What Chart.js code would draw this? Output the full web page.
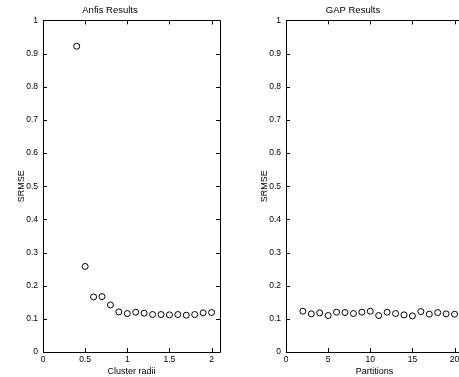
<!DOCTYPE html>
<html>
<head>
<meta charset="utf-8">
<script src="https://cdn.jsdelivr.net/npm/chart.js@4.4.0/dist/chart.umd.min.js"></script>
<style>
  html, body { margin: 0; padding: 0; background: #fff; overflow: hidden; width: 459px; height: 377px; }
  .box { position: absolute; top: 0; width: 230px; height: 377px; }
  #b1 { left: 0; }
  #b2 { left: 243px; }
</style>
</head>
<body>
<div class="box" id="b1"><canvas id="c1" width="230" height="377"></canvas></div>
<div class="box" id="b2"><canvas id="c2" width="230" height="377"></canvas></div>
<script>
// ---- data ----
const anfisRadii = [0.4, 0.5, 0.6, 0.7, 0.8, 0.9, 1.0, 1.1, 1.2, 1.3, 1.4, 1.5, 1.6, 1.7, 1.8, 1.9, 2.0];
const anfisSRMSE = [0.922, 0.258, 0.166, 0.167, 0.142, 0.121, 0.116, 0.120, 0.117, 0.113, 0.113, 0.112, 0.113, 0.111, 0.113, 0.118, 0.119];
const gapPartitions = [2, 3, 4, 5, 6, 7, 8, 9, 10, 11, 12, 13, 14, 15, 16, 17, 18, 19, 20];
const gapSRMSE = [0.123, 0.115, 0.118, 0.110, 0.120, 0.119, 0.116, 0.120, 0.123, 0.110, 0.120, 0.116, 0.112, 0.109, 0.122, 0.114, 0.119, 0.115, 0.114];
const yTicks = [0, 0.1, 0.2, 0.3, 0.4, 0.5, 0.6, 0.7, 0.8, 0.9, 1];
const yTickLabels = ['0', '0.1', '0.2', '0.3', '0.4', '0.5', '0.6', '0.7', '0.8', '0.9', '1'];
const anfisXTicks = [0, 0.5, 1, 1.5, 2];
const anfisXTickLabels = ['0', '0.5', '1', '1.5', '2'];
const gapXTicks = [0, 5, 10, 15, 20];
const gapXTickLabels = ['0', '5', '10', '15', '20'];

const FONT = 'Liberation Sans, Arial, Helvetica, sans-serif';

const framePlugin = {
  id: 'frame',
  afterDatasetsDraw(chart) {
    const { ctx, chartArea: a, scales } = chart;
    ctx.save();
    ctx.strokeStyle = '#000';
    ctx.lineWidth = 1;
    ctx.beginPath();
    ctx.rect(Math.round(a.left) + 0.5, Math.round(a.top) + 0.5, Math.round(a.right - a.left), Math.round(a.bottom - a.top));
    ctx.stroke();
    const tl = 4;
    ctx.beginPath();
    scales.x.ticks.forEach(t => {
      const px = Math.round(scales.x.getPixelForValue(t.value)) + 0.5;
      ctx.moveTo(px, a.bottom); ctx.lineTo(px, a.bottom - tl);
      ctx.moveTo(px, a.top); ctx.lineTo(px, a.top + tl);
    });
    scales.y.ticks.forEach(t => {
      const py = Math.round(scales.y.getPixelForValue(t.value)) + 0.5;
      ctx.moveTo(a.left, py); ctx.lineTo(a.left + tl, py);
      ctx.moveTo(a.right, py); ctx.lineTo(a.right - tl, py);
    });
    ctx.stroke();
    ctx.restore();
  }
};

function makeChart(id, title, xLabel, xs, ys, xMax, xTicks, xTickLabels) {
  const data = xs.map((x, i) => ({ x: x, y: ys[i] }));
  return new Chart(document.getElementById(id), {
    type: 'scatter',
    data: {
      datasets: [{
        data: data,
        pointStyle: 'circle',
        pointRadius: 3,
        pointHoverRadius: 3,
        pointBorderWidth: 1,
        borderColor: '#000',
        backgroundColor: 'rgba(0,0,0,0)',
        clip: false
      }]
    },
    options: {
      responsive: false,
      animation: false,
      events: [],
      layout: { padding: { left: 0, right: 10, top: 0, bottom: 0 } },
      plugins: {
        legend: { display: false },
        tooltip: { enabled: false },
        title: {
          display: true,
          text: title,
          color: '#000',
          font: { family: FONT, size: 9.5, weight: 'normal' },
          padding: { top: 4.5, bottom: 4.5 }
        }
      },
      scales: {
        x: {
          type: 'linear',
          min: 0,
          max: xMax,
          afterBuildTicks: s => { s.ticks = xTicks.map(v => ({ value: v })); },
          afterFit: s => { s.height = 25; },
          grid: { display: false, drawTicks: false },
          border: { display: false },
          ticks: {
            color: '#000',
            font: { family: FONT, size: 8.5 },
            padding: 3,
            maxRotation: 0,
            autoSkip: false,
            callback: (v) => { const i = xTicks.indexOf(v); return i >= 0 ? xTickLabels[i] : ''; }
          },
          title: {
            display: true,
            text: xLabel,
            color: '#000',
            font: { family: FONT, size: 9, weight: 'normal' },
            padding: { top: 0, bottom: 0 }
          }
        },
        y: {
          type: 'linear',
          min: 0,
          max: 1,
          afterBuildTicks: s => { s.ticks = yTicks.map(v => ({ value: v })); },
          afterFit: s => { s.width = 43; },
          grid: { display: false, drawTicks: false },
          border: { display: false },
          ticks: {
            color: '#000',
            font: { family: FONT, size: 8.5 },
            padding: 5,
            autoSkip: false,
            callback: (v) => { const i = yTicks.indexOf(v); return i >= 0 ? yTickLabels[i] : ''; }
          },
          title: {
            display: true,
            text: 'SRMSE',
            color: '#000',
            font: { family: FONT, size: 9, weight: 'normal' },
            padding: { top: 16, bottom: 0 }
          }
        }
      }
    },
    plugins: [framePlugin]
  });
}

makeChart('c1', 'Anfis Results', 'Cluster radii', anfisRadii, anfisSRMSE, 2.1, anfisXTicks, anfisXTickLabels);
makeChart('c2', 'GAP Results', 'Partitions', gapPartitions, gapSRMSE, 21, gapXTicks, gapXTickLabels);
</script>
</body>
</html>
